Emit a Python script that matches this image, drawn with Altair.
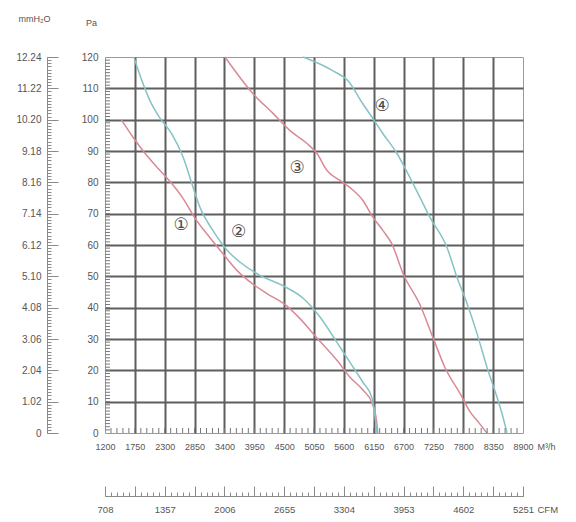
import json
import altair as alt
import pandas as pd

# ---------------- data ----------------
# curve 1 (red)
c1_q = [1500, 1720, 1900, 2180, 2430, 2640, 2860, 3130, 3370, 3630, 3926, 4184,
        4552, 4792, 5105, 5473, 5713, 5952, 6118, 6200, 6225]
c1_p = [100, 94.3, 90.1, 84.4, 79.6, 74.8, 68.5, 62.4, 57.3, 51.9, 47.5, 44.5,
        40.5, 36.5, 30.3, 23.2, 17.8, 13.7, 9.6, 4.1, 0]
# curve 2 (cyan)
c2_q = [1730, 1900, 2030, 2210, 2430, 2640, 2800, 2950, 3190, 3450, 3690, 4055,
        4480, 4850, 5160, 5470, 5710, 5950, 6120, 6175, 6210]
c2_p = [120, 111.5, 106, 100.6, 95.5, 88, 79.6, 72, 64.6, 58.3, 54.5, 50.3,
        47, 43, 37, 29, 22.6, 16.2, 11.1, 5.1, 0]
# curve 3 (red)
c3_q = [3410, 3926, 4295, 4608, 4921, 5105, 5289, 5529, 5713, 5952, 6137, 6321,
        6480, 6700, 7000, 7230, 7460, 7760, 7923, 8100, 8236]
c3_p = [120, 108.3, 102, 96.5, 92.4, 89.2, 83.8, 80.6, 78.3, 74.2, 68.8, 64.6,
        60.5, 50.5, 41, 31, 21, 12, 6.8, 3, 0]
# curve 4 (cyan)
c4_q = [4850, 5400, 5676, 5952, 6137, 6321, 6579, 6818, 7002, 7187, 7500, 7684,
        7868, 8052, 8236, 8420, 8531, 8605]
c4_p = [120, 115.6, 112.4, 105, 100.3, 95.5, 89.2, 81.5, 75.2, 68.8, 59.2, 49.7,
        41.4, 31.8, 21, 11.5, 5.1, 0]

curve_names = ["1", "2", "3", "4"]
curve_colors = ["#d98a95", "#86c3c4", "#d98a95", "#86c3c4"]

# circled labels
lab_text = ["①", "②", "③", "④"]
lab_q = [2600, 3660, 4737, 6303]
lab_p = [66.3, 64.3, 84.7, 104.5]

# axes
m3h_vals = [1200, 1750, 2300, 2850, 3400, 3950, 4500, 5050, 5600, 6150, 6700,
            7250, 7800, 8350, 8900]
m3h_labels = ["1200", "1750", "2300", "2850", "3400", "3950", "4500", "5050",
              "5600", "6150", "6700", "7250", "7800", "8350", "8900"]
pa_vals = [0, 10, 20, 30, 40, 50, 60, 70, 80, 90, 100, 110, 120]
mm_labels = ["0", "1.02", "2.04", "3.06", "4.08", "5.10", "6.12", "7.14", "8.16",
             "9.18", "10.20", "11.22", "12.24"]
cfm_vals = [708, 1357, 2006, 2655, 3304, 3953, 4602, 5251]
cfm_labels = ["708", "1357", "2006", "2655", "3304", "3953", "4602", "5251"]

# ---------------- tables ----------------
rows = []
for name, qs, ps in zip(curve_names, [c1_q, c2_q, c3_q, c4_q], [c1_p, c2_p, c3_p, c4_p]):
    for q, p in zip(qs, ps):
        rows.append({"curve": name, "q": q, "p": p})
curves = pd.DataFrame(rows)
labels = pd.DataFrame({"t": lab_text, "q": lab_q, "p": lab_p})

cfm_major = [708 + 324.5 * k for k in range(15)]
cfm_minor = [round(708 + 64.9 * k, 2) for k in range(71)]
x_minor = pd.DataFrame({"q": [1200 + 110 * k for k in range(1, 70)]})
pa_minor = list(range(0, 121))
pa_minor_df = pd.DataFrame({"p": list(range(1, 120))})

W, H = 418, 376
FONT = "Liberation Sans"
TXT = "#555555"
TICK = "#8a8a8a"

xs = alt.Scale(domain=[1200, 8900], nice=False, zero=False)
ys = alt.Scale(domain=[0, 120], nice=False, zero=False)
cs = alt.Scale(domain=[708, 5251], nice=False, zero=False)


def lab_expr(vals, labs):
    return f"{json.dumps(labs)}[indexof({json.dumps(vals)}, datum.value)]"


edge_hide = {"condition": {"test": "datum.value == 1200 || datum.value == 8900", "value": 0}, "value": 1}
edge_hide_y = {"condition": {"test": "datum.value == 0 || datum.value == 120", "value": 0}, "value": 1}

main = alt.Chart(curves).mark_line(strokeWidth=1.5, interpolate="monotone").encode(
    x=alt.X("q:Q", scale=xs, axis=alt.Axis(
        orient="bottom", values=m3h_vals, labelExpr=lab_expr(m3h_vals, m3h_labels),
        grid=True, gridColor="#5e5e5e", gridWidth=2, gridOpacity=edge_hide,
        ticks=False, tickSize=0, domain=False, labelPadding=13, labelBaseline="middle",
        labelFontSize=9, labelFlush=False, labelOverlap=False,
        title="M³/h", titleX=432, titleY=13, titleAlign="left", titleBaseline="middle",
        titleFontWeight="normal", titleFontSize=9)),
    y=alt.Y("p:Q", scale=ys, axis=alt.Axis(
        orient="left", values=pa_vals, grid=True, gridColor="#5e5e5e", gridWidth=2,
        gridOpacity=edge_hide_y, ticks=False, tickSize=0, domain=False, labelPadding=7,
        labelBaseline="middle", labelFontSize=10, labelFlush=False, labelOverlap=False,
        title="Pa", titleAngle=0, titleX=-14, titleY=-35, titleAlign="center",
        titleBaseline="middle", titleFontWeight="normal", titleFontSize=9)),
    color=alt.Color("curve:N", scale=alt.Scale(domain=curve_names, range=curve_colors), legend=None),
    detail="curve:N",
)

texts = alt.Chart(labels).mark_text(font="DejaVu Sans", fontSize=17, color="#4a4a4a").encode(
    x=alt.X("q:Q", scale=xs, axis=None),
    y=alt.Y("p:Q", scale=ys, axis=None),
    text="t:N",
)

# small inward ticks along the bottom and left edges of the plot
bottom_ticks = alt.Chart(x_minor).mark_rule(color="#777777", strokeWidth=1).encode(
    x=alt.X("q:Q", scale=xs, axis=None),
    y=alt.value(H - 5),
    y2=alt.value(H),
)
left_ticks = alt.Chart(pa_minor_df).mark_rule(color="#777777", strokeWidth=1).encode(
    y=alt.Y("p:Q", scale=ys, axis=None),
    x=alt.value(0),
    x2=alt.value(5),
)

major = alt.Chart(pd.DataFrame({"c": [708], "p": [0]})).mark_point(opacity=0).encode(
    x=alt.X("c:Q", scale=cs, axis=alt.Axis(
        orient="top", offset=-439, values=cfm_major, labels=False, domain=True,
        domainColor=TICK, grid=False, ticks=True, tickSize=10, tickColor=TICK, title=None)),
    y=alt.Y("p:Q", scale=ys, axis=alt.Axis(
        orient="right", offset=-(W + 58), values=pa_vals, labels=False, domain=True,
        domainColor=TICK, grid=False, ticks=True, tickSize=11, tickColor=TICK, title=None)),
)

minor = alt.Chart(pd.DataFrame({"c": [708], "p": [0]})).mark_point(opacity=0).encode(
    x=alt.X("c:Q", scale=cs, axis=alt.Axis(
        orient="top", offset=-439, values=cfm_minor, labels=False, domain=False,
        grid=False, ticks=True, tickSize=4, tickColor=TICK, title=None)),
    y=alt.Y("p:Q", scale=ys, axis=alt.Axis(
        orient="right", offset=-(W + 58), values=pa_minor, labels=False, domain=False,
        grid=False, ticks=True, tickSize=4, tickColor=TICK, title=None)),
)

outer_labels = alt.Chart(pd.DataFrame({"c": [708], "p": [0]})).mark_point(opacity=0).encode(
    x=alt.X("c:Q", scale=cs, axis=alt.Axis(
        orient="bottom", offset=63, values=cfm_vals, labelExpr=lab_expr(cfm_vals, cfm_labels),
        ticks=False, tickSize=0, domain=False, grid=False, labelPadding=13,
        labelBaseline="middle", labelFontSize=9.5, labelFlush=False, labelOverlap=False,
        title="CFM", titleX=432, titleY=13, titleAlign="left", titleBaseline="middle",
        titleFontWeight="normal", titleFontSize=9.5)),
    y=alt.Y("p:Q", scale=ys, axis=alt.Axis(
        orient="left", offset=58, values=pa_vals, labelExpr=lab_expr(pa_vals, mm_labels),
        ticks=False, tickSize=0, domain=False, grid=False, labelPadding=6,
        labelBaseline="middle", labelFontSize=10, labelFlush=False, labelOverlap=False,
        title="mmH₂O", titleAngle=0, titleX=-13, titleY=-39, titleAlign="center",
        titleBaseline="middle", titleFontWeight="normal", titleFontSize=9)),
)

chart = alt.layer(main, texts, bottom_ticks, left_ticks, major, minor, outer_labels).resolve_scale(
    x="independent", y="independent", color="independent"
).properties(
    width=W, height=H,
    autosize=alt.AutoSizeParams(type="none"),
    padding={"left": 97, "top": 49, "right": 45, "bottom": 81},
    background="white",
).configure_view(stroke="#9a9a9a", strokeWidth=1).configure_axis(
    labelFont=FONT, titleFont=FONT, labelColor=TXT, titleColor=TXT
)

chart.save("out.html", embed_options={"renderer": "svg", "actions": False})
